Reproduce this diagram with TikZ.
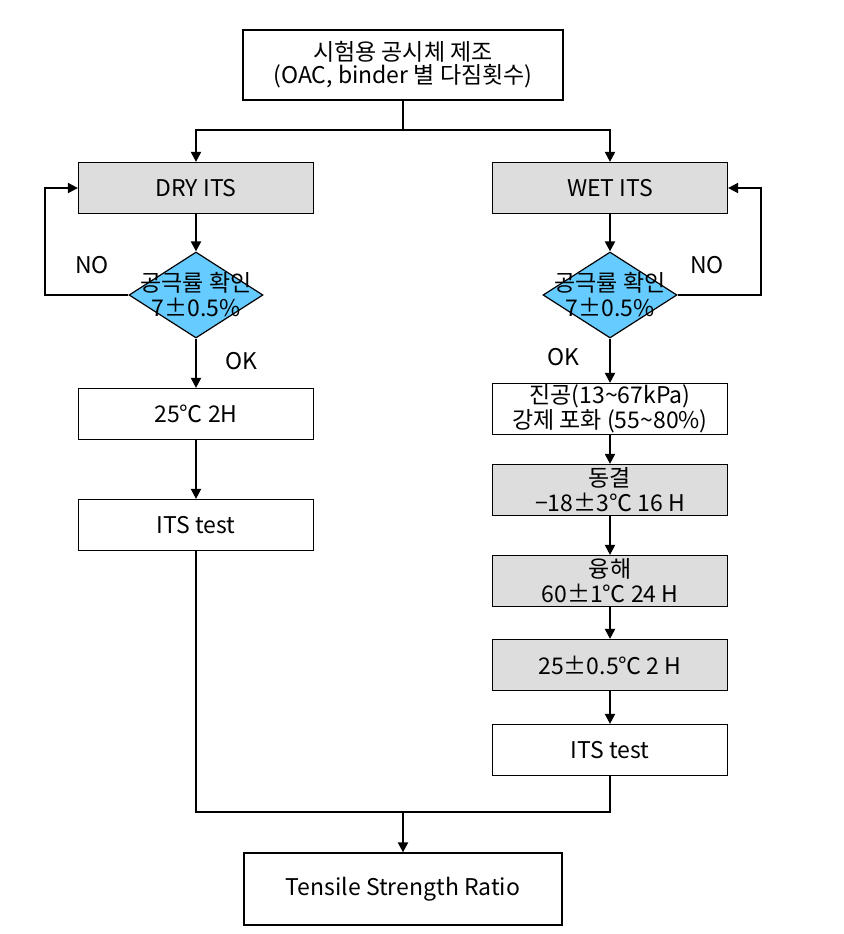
\documentclass[tikz,border=0pt]{standalone}
\usepackage{fontspec}
\setmainfont{Noto Sans CJK KR}
\usetikzlibrary{shapes.geometric,arrows.meta}
\definecolor{boxgray}{HTML}{DDDDDD}
\definecolor{chkblue}{HTML}{66CCFF}
\tikzset{
	stepbox/.style={draw, line width=0.6pt, minimum width=117.5pt, minimum height=25.5pt, inner sep=0.5pt, align=center},
	graybox/.style={stepbox, fill=boxgray},
	chk/.style={diamond, draw, line width=0.6pt, fill=chkblue, minimum width=67pt, minimum height=43pt, inner sep=0pt, align=center},
	flow/.style={line width=1pt, -{Triangle[length=5pt,width=5pt]}},
	wire/.style={line width=1pt},
}

\begin{document}
\begin{tikzpicture}[x=0.5pt, y=-0.5pt, font=\fontsize{11.5}{12.5}\selectfont]
		\useasboundingbox (0,0) rectangle (843,934);
		\path (403,65) node[stepbox, minimum width=160pt, minimum height=35pt, font=\fontsize{11.5}{11.5}\selectfont] (prep) {시험용 공시체 제조\\(OAC, binder 별 다짐횟수)};
		\path (prep) ++(0,65) coordinate (fork);

		% dry side
		\path (prep) ++(-207,123) node[graybox] (dry) {DRY ITS};
		\path (dry) ++(0,107) node[chk] (drychk) {\makebox[0pt]{공극률 확인}\\\makebox[0pt]{7±0.5\%}};
		\path (drychk) ++(0,119) node[stepbox] (dry25) {25℃ 2H};
		\path (dry25) ++(0,111) node[stepbox] (dryits) {ITS test};
		\path (drychk) ++(-104,-30) node (dryno) {NO};
		\path (drychk) ++(45,66) node (dryok) {OK};

		% wet side
		\path (prep) ++(207,123) node[graybox] (wet) {WET ITS};
		\path (wet) ++(0,107) node[chk] (wetchk) {\makebox[0pt]{공극률 확인}\\\makebox[0pt]{7±0.5\%}};
		\path (wetchk) ++(0,114) node[stepbox] (vac) {진공(13\textasciitilde67kPa)\\강제 포화 (55\textasciitilde80\%)};
		\path (vac) ++(0,81) node[graybox] (frz) {동결\\−18±3℃ 16 H};
		\path (frz) ++(0,91) node[graybox] (thaw) {융해\\60±1℃ 24 H};
		\path (thaw) ++(0,84) node[graybox] (wet25) {25±0.5℃ 2 H};
		\path (wet25) ++(0,85) node[stepbox] (wetits) {ITS test};
		\path (wetchk) ++(97,-30) node (wetno) {NO};
		\path (wetchk) ++(-47,62) node (wetok) {OK};

		\path (prep) ++(0,824) node[stepbox, minimum width=159pt, minimum height=36pt] (tsr) {Tensile Strength Ratio};
		\path (tsr) ++(0,-77) coordinate (join);

		\draw[wire] (prep) -- (fork);
		\draw[flow] (fork) -| (dry);
		\draw[flow] (fork) -| (wet);

		\draw[flow] (dry) -- (drychk);
		\draw[flow] (drychk) -- (dry25);
		\draw[flow] (dry25) -- (dryits);
		\draw[flow] (drychk.west) -- ++(-83,0) |- (dry.west);

		\draw[flow] (wet) -- (wetchk);
		\draw[flow] (wetchk) -- (vac);
		\draw[flow] (vac) -- (frz);
		\draw[flow] (frz) -- (thaw);
		\draw[flow] (thaw) -- (wet25);
		\draw[flow] (wet25) -- (wetits);
		\draw[flow] (wetchk.east) -- ++(83,0) |- (wet.east);

		\draw[wire] (dryits) |- (join);
		\draw[wire] (wetits) |- (join);
		\draw[flow] (join) -- (tsr);
	\end{tikzpicture}
\end{document}
